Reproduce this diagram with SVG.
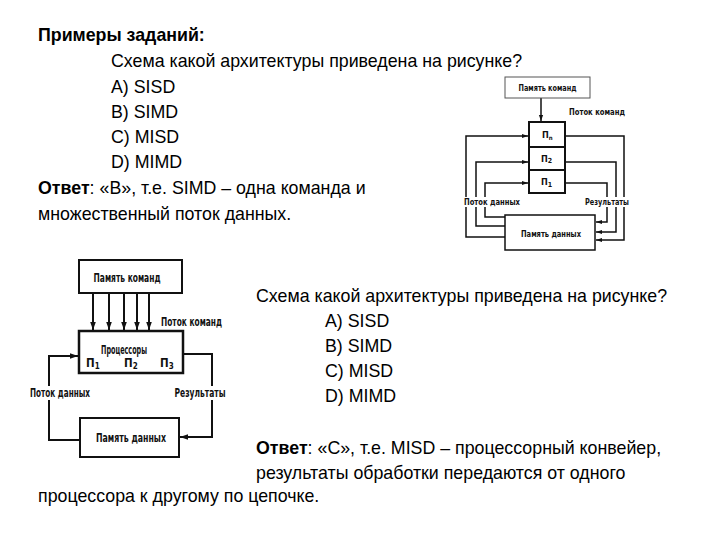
<svg xmlns="http://www.w3.org/2000/svg" width="720" height="540" viewBox="0 0 720 540">
<style>
.t{font-family:"Liberation Sans",Arial,sans-serif;font-size:17.8px;fill:#000}
.b{font-weight:bold}
.d{font-family:"Liberation Sans Narrow","DejaVu Sans Condensed","Liberation Sans",sans-serif;font-weight:bold;fill:#111}
.box{fill:#fff;stroke:#111;stroke-width:2}
.box2{fill:#fff;stroke:#111;stroke-width:1.5}
.ln{fill:none;stroke:#111;stroke-width:1.5}
.ln2{fill:none;stroke:#111;stroke-width:2}
</style>
<defs>
<marker id="ah" viewBox="0 0 10 10" refX="10" refY="5" markerWidth="6" markerHeight="6" orient="auto" markerUnits="userSpaceOnUse">
<path d="M0,1.5 L10,5 L0,8.5 Z" fill="#111"/>
</marker>
<marker id="ah2" viewBox="0 0 10 10" refX="10" refY="5" markerWidth="8" markerHeight="8" orient="auto" markerUnits="userSpaceOnUse">
<path d="M0,1.5 L10,5 L0,8.5 Z" fill="#111"/>
</marker>
</defs>
<rect width="720" height="540" fill="#fff"/>

<g id="text-top">
<text class="t b" x="38" y="41">Примеры заданий:</text>
<text class="t" x="111" y="67">Схема какой архитектуры приведена на рисунке?</text>
<text class="t" x="111" y="93">A) SISD</text>
<text class="t" x="111" y="118">B) SIMD</text>
<text class="t" x="111" y="143">C) MISD</text>
<text class="t" x="111" y="168">D) MIMD</text>
<text class="t" x="38" y="194"><tspan class="b">Ответ</tspan>: «В», т.е. SIMD – одна команда и</text>
<text class="t" x="38" y="220">множественный поток данных.</text>
</g>

<g id="text-bottom">
<text class="t" x="256" y="302">Схема какой архитектуры приведена на рисунке?</text>
<text class="t" x="325" y="327">A) SISD</text>
<text class="t" x="325" y="352">B) SIMD</text>
<text class="t" x="325" y="377">C) MISD</text>
<text class="t" x="325" y="402">D) MIMD</text>
<text class="t" x="256" y="454"><tspan class="b">Ответ</tspan>: «С», т.е. MISD – процессорный конвейер,</text>
<text class="t" x="256" y="479">результаты обработки передаются от одного</text>
<text class="t" x="38" y="502">процессора к другому по цепочке.</text>
</g>

<!-- Top-right diagram (MISD) -->
<g id="connectors-top">
<path class="ln" d="M541,98 V121" marker-end="url(#ah)"/>
<path class="ln" d="M505,237 H466 V136 H528" marker-end="url(#ah)"/>
<path class="ln" d="M505,226 H476 V162 H528" marker-end="url(#ah)"/>
<path class="ln" d="M505,217 H485 V183 H528" marker-end="url(#ah)"/>
<path class="ln" d="M565,136 H624 V240 H596" marker-end="url(#ah)"/>
<path class="ln" d="M565,162 H616 V232 H596" marker-end="url(#ah)"/>
<path class="ln" d="M565,183 H607 V222 H596" marker-end="url(#ah)"/>
</g>
<g id="tr-cmdmem">
<rect x="505" y="77" width="85" height="21" fill="#fff" stroke="#555" stroke-width="1"/>
<text class="d" x="547.5" y="91" font-size="8" text-anchor="middle" textLength="58" lengthAdjust="spacingAndGlyphs">Память команд</text>
</g>
<g id="tr-cmdflow">
<text class="d" x="597" y="115" font-size="8" text-anchor="middle" textLength="56" lengthAdjust="spacingAndGlyphs">Поток команд</text>
</g>
<g id="tr-pn">
<rect class="box" x="529" y="122" width="36" height="25"/>
<text class="d" x="542" y="138" font-size="9">П<tspan font-size="6" dy="2">n</tspan></text>
</g>
<g id="tr-p2">
<rect class="box" x="529" y="147" width="36" height="23"/>
<text class="d" x="541" y="162" font-size="9">П<tspan font-size="7" dy="1">2</tspan></text>
</g>
<g id="tr-p1">
<rect class="box" x="529" y="170" width="36" height="23"/>
<text class="d" x="541" y="185" font-size="9">П<tspan font-size="7" dy="2">1</tspan></text>
</g>
<g id="tr-dataflow">
<rect x="463" y="197" width="58" height="10" fill="#fff"/>
<text class="d" x="492" y="205" font-size="8" text-anchor="middle" textLength="56" lengthAdjust="spacingAndGlyphs">Поток данных</text>
</g>
<g id="tr-results">
<rect x="585" y="197" width="46" height="10" fill="#fff"/>
<text class="d" x="607" y="205" font-size="8" text-anchor="middle" textLength="44" lengthAdjust="spacingAndGlyphs">Результаты</text>
</g>
<g id="tr-datamem">
<rect class="box2" x="505" y="215" width="90" height="35"/>
<text class="d" x="551" y="237" font-size="8" text-anchor="middle" textLength="60" lengthAdjust="spacingAndGlyphs">Память данных</text>
</g>

<!-- Bottom-left diagram (SIMD) -->
<g id="connectors-bottom">
<path class="ln2" d="M93,293 V330" marker-end="url(#ah2)"/>
<path class="ln2" d="M109,293 V330" marker-end="url(#ah2)"/>
<path class="ln2" d="M124,293 V330" marker-end="url(#ah2)"/>
<path class="ln2" d="M137,293 V330" marker-end="url(#ah2)"/>
<path class="ln2" d="M149,293 V330" marker-end="url(#ah2)"/>
<path class="ln2" d="M80,440 H49 V356 H78" marker-end="url(#ah2)"/>
<path class="ln2" d="M183,354 H212 V437 H180" marker-end="url(#ah2)"/>
</g>
<g id="bl-cmdmem">
<rect class="box" x="79" y="260" width="103" height="33"/>
<text class="d" x="127" y="282" font-size="11.5" text-anchor="middle" textLength="67" lengthAdjust="spacingAndGlyphs">Память команд</text>
</g>
<g id="bl-cmdflow">
<text class="d" x="161" y="326" font-size="11.5" textLength="61" lengthAdjust="spacingAndGlyphs">Поток команд</text>
</g>
<g id="bl-procs">
<rect x="79" y="331" width="104" height="42" fill="#fff" stroke="#111" stroke-width="2.5"/>
<text class="d" x="124" y="354" font-size="12" text-anchor="middle" textLength="46" lengthAdjust="spacingAndGlyphs">Процессоры</text>
<text class="d" x="86" y="367" font-size="11.5">П<tspan font-size="8" dy="2">1</tspan></text>
<text class="d" x="124" y="367" font-size="11.5">П<tspan font-size="8" dy="2">2</tspan></text>
<text class="d" x="160" y="367" font-size="11.5">П<tspan font-size="8" dy="2">3</tspan></text>
</g>
<g id="bl-dataflow">
<rect x="29" y="386" width="63" height="14" fill="#fff"/>
<text class="d" x="60" y="397" font-size="11.5" text-anchor="middle" textLength="60" lengthAdjust="spacingAndGlyphs">Поток данных</text>
</g>
<g id="bl-results">
<rect x="173" y="386" width="54" height="14" fill="#fff"/>
<text class="d" x="200" y="397" font-size="11.5" text-anchor="middle" textLength="51" lengthAdjust="spacingAndGlyphs">Результаты</text>
</g>
<g id="bl-datamem">
<rect class="box" x="80" y="418" width="99" height="39"/>
<text class="d" x="131" y="442" font-size="11.5" text-anchor="middle" textLength="70" lengthAdjust="spacingAndGlyphs">Память данных</text>
</g>
</svg>
